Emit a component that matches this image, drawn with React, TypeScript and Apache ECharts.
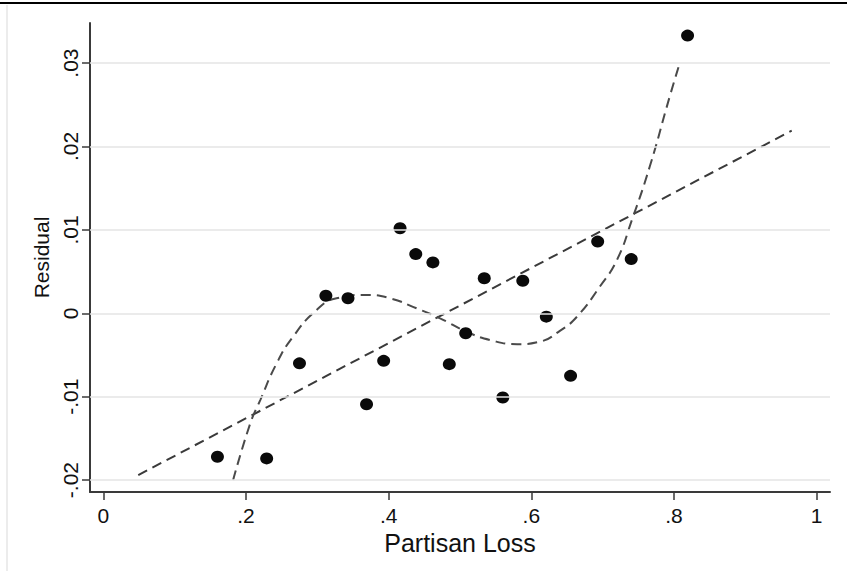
import React, { useEffect, useRef } from "react";
import * as echarts from "echarts";

// Scatter points: partisan loss (x) vs residual (y)
const pointsX = [0.160, 0.229, 0.275, 0.312, 0.343, 0.369, 0.393, 0.416, 0.438, 0.462, 0.485, 0.508, 0.534, 0.560, 0.588, 0.621, 0.655, 0.693, 0.740, 0.819];
const pointsY = [-0.0172, -0.0174, -0.0060, 0.0021, 0.0018, -0.0109, -0.0057, 0.0102, 0.0071, 0.0061, -0.0061, -0.0024, 0.0042, -0.0101, 0.0039, -0.0004, -0.0075, 0.0086, 0.0065, 0.0333];

// Linear fit (dashed) end points
const linearX = [0.049, 0.965];
const linearY = [-0.0194, 0.0219];

// Cubic fit (dashed)
const cubicX = [0.182, 0.206, 0.220, 0.243, 0.266, 0.299, 0.327, 0.369, 0.402, 0.439, 0.472, 0.509, 0.542, 0.580, 0.612, 0.640, 0.664, 0.696, 0.720, 0.741, 0.766, 0.794, 0.808];
const cubicY = [-0.0200, -0.0132, -0.0104, -0.0060, -0.0028, 0.0004, 0.0018, 0.0022, 0.0018, 0.0006, -0.0006, -0.0022, -0.0032, -0.0037, -0.0034, -0.0021, -0.0004, 0.0032, 0.0064, 0.0112, 0.0176, 0.0260, 0.0300];

// Tick labels
const xTicks = [0, 0.2, 0.4, 0.6, 0.8, 1];
const yTicks = [-0.02, -0.01, 0, 0.01, 0.02, 0.03];

const xTitle = "Partisan Loss";
const yTitle = "Residual";

const fmt = (v: number) => {
  if (v === 0) return "0";
  const s = String(Math.round(v * 1000) / 1000);
  return s.replace("0.", ".");
};

export default function App() {
  const ref = useRef<HTMLDivElement>(null);
  useEffect(() => {
    if (!ref.current) return;
    const chart = echarts.init(ref.current, null, { renderer: "svg" });
    const font = "'Liberation Sans', Arial, sans-serif";
    const zip = (a: number[], b: number[]) => a.map((x, i) => [x, b[i]]);
    chart.setOption({
      animation: false,
      backgroundColor: "#ffffff",
      textStyle: { fontFamily: font },
      grid: { left: 90, right: 17, top: 23, bottom: 79, containLabel: false },
      xAxis: {
        type: "value",
        min: -0.018643,
        max: 1.018645,
        name: xTitle,
        nameLocation: "middle",
        nameGap: 31,
        nameTextStyle: { fontSize: 25, color: "#111", fontFamily: font },
        axisLine: { show: true, onZero: false, lineStyle: { color: "#3a3a3a", width: 2 } },
        axisTick: { show: true, length: 8, customValues: xTicks, lineStyle: { color: "#3a3a3a", width: 1.5 } },
        axisLabel: { customValues: xTicks, formatter: fmt, fontSize: 21, color: "#111", margin: 13, fontFamily: font },
        splitLine: { show: false },
      },
      yAxis: {
        type: "value",
        min: -0.021427,
        max: 0.034808,
        name: yTitle,
        nameLocation: "middle",
        nameGap: 36,
        nameTextStyle: { fontSize: 21, color: "#111", fontFamily: font },
        axisLine: { show: true, onZero: false, lineStyle: { color: "#3a3a3a", width: 2 } },
        axisTick: { show: true, length: 8, customValues: yTicks, lineStyle: { color: "#3a3a3a", width: 1.5 } },
        axisLabel: { customValues: yTicks, formatter: fmt, fontSize: 21, color: "#111", margin: 9, rotate: 90, fontFamily: font },
        splitLine: { show: false },
      },
      graphic: [
        { type: "line", shape: { x1: 0, y1: 3, x2: 847, y2: 3 }, style: { stroke: "#000", lineWidth: 2 }, z: 100 },
        { type: "line", shape: { x1: 7, y1: 5, x2: 7, y2: 571 }, style: { stroke: "#e6e6e6", lineWidth: 1.5 }, z: 100 },
      ],
      series: [
        {
          type: "line",
          data: [],
          silent: true,
          z: 1,
          markLine: {
            silent: true,
            symbol: "none",
            label: { show: false },
            lineStyle: { color: "#e4e4e4", width: 1.5, type: "solid" },
            data: yTicks.map((v) => ({ yAxis: v })),
          },
        },
        {
          type: "line",
          data: zip(linearX, linearY),
          showSymbol: false,
          silent: true,
          z: 3,
          lineStyle: { color: "#3a3a3a", width: 2, type: [10, 6] },
        },
        {
          type: "line",
          data: zip(cubicX, cubicY),
          showSymbol: false,
          smooth: 0.5,
          silent: true,
          z: 3,
          lineStyle: { color: "#4a4a4a", width: 2, type: [10, 6] },
        },
        {
          type: "scatter",
          data: zip(pointsX, pointsY),
          symbol: "circle",
          symbolSize: [13, 12],
          z: 4,
          itemStyle: { color: "#0a0a0a", opacity: 1 },
        },
      ],
    });
    return () => chart.dispose();
  }, []);
  return <div ref={ref} style={{ position: "absolute", left: 0, top: 0, width: 847, height: 571 }} />;
}
